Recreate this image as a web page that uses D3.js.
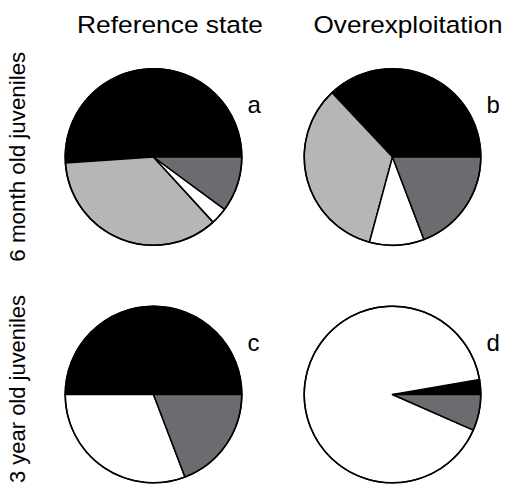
<!DOCTYPE html>
<html>
<head>
<meta charset="utf-8">
<script src="https://cdn.jsdelivr.net/npm/d3@7"></script>
<style>
  html, body { margin: 0; padding: 0; background: #fff; }
  text { font-family: "Liberation Sans", Arial, Helvetica, sans-serif; fill: #000; }
</style>
</head>
<body>
<svg id="chart" width="508" height="486"></svg>
<script>
// Diet composition shares (%), slices listed counter-clockwise from 3 o'clock
const components = ["black", "lightgray", "white", "darkgray"];
const columns = ["Reference state", "Overexploitation"];
const rows = ["6 month old juveniles", "3 year old juveniles"];
const panelLetters = ["a", "b", "c", "d"];

const panelA = [51.1, 35.7, 3.1, 10.1];
const panelB = [37.0, 33.8, 10.0, 19.2];
const panelC = [50.0, 0, 30.8, 19.2];
const panelD = [2.7, 0, 90.7, 6.6];

const colors = ["#000000", "#b4b6b8", "#ffffff", "#6b6c6f"];

const panels = [
  { letter: panelLetters[0], col: columns[0], row: rows[0], values: panelA },
  { letter: panelLetters[1], col: columns[1], row: rows[0], values: panelB },
  { letter: panelLetters[2], col: columns[0], row: rows[1], values: panelC },
  { letter: panelLetters[3], col: columns[1], row: rows[1], values: panelD }
];

const svg = d3.select("#chart");

const x = d3.scaleOrdinal().domain(columns).range([153.5, 392.5]);
const y = d3.scaleOrdinal().domain(rows).range([157, 394.5]);
const color = d3.scaleOrdinal().domain(components).range(colors);
const radius = 88.3;

const pie = d3.pie()
  .sort(null)
  .value(d => d.v)
  .startAngle(Math.PI / 2)
  .endAngle(Math.PI / 2 - 2 * Math.PI);

const arc = d3.arc().innerRadius(0).outerRadius(radius);

panels.forEach(p => {
  const g = svg.append("g")
    .attr("transform", `translate(${x(p.col)},${y(p.row)})`);
  const data = components.map((c, i) => ({ c, v: p.values[i] }));
  g.selectAll("path")
    .data(pie(data).filter(d => d.data.v > 0))
    .join("path")
    .attr("d", arc)
    .attr("fill", d => color(d.data.c))
    .attr("stroke", "#000")
    .attr("stroke-width", 1.5)
    .attr("stroke-linejoin", "round");
  g.append("circle")
    .attr("r", radius)
    .attr("fill", "none")
    .attr("stroke", "#000")
    .attr("stroke-width", 1.5);
  g.append("text")
    .attr("x", 94)
    .attr("y", -44)
    .attr("font-size", 24)
    .text(p.letter);
});

// Column headers
const headerX = { "Reference state": 170, "Overexploitation": 408 };
const headerW = { "Reference state": 186, "Overexploitation": 189 };
svg.selectAll("text.col")
  .data(columns)
  .join("text")
  .attr("class", "col")
  .attr("x", d => headerX[d] - headerW[d] / 2)
  .attr("y", 32.5)
  .attr("font-size", 24.5)
  .attr("textLength", d => headerW[d])
  .attr("lengthAdjust", "spacingAndGlyphs")
  .text(d => d);

// Row labels
const rowY = { "6 month old juveniles": 156.7, "3 year old juveniles": 389 };
const rowW = { "6 month old juveniles": 210, "3 year old juveniles": 188 };
svg.selectAll("text.row")
  .data(rows)
  .join("text")
  .attr("class", "row")
  .attr("transform", d => `translate(25,${rowY[d]}) rotate(-90)`)
  .attr("x", d => -rowW[d] / 2)
  .attr("font-size", 22)
  .attr("textLength", d => rowW[d])
  .attr("lengthAdjust", "spacingAndGlyphs")
  .text(d => d);
</script>
</body>
</html>
